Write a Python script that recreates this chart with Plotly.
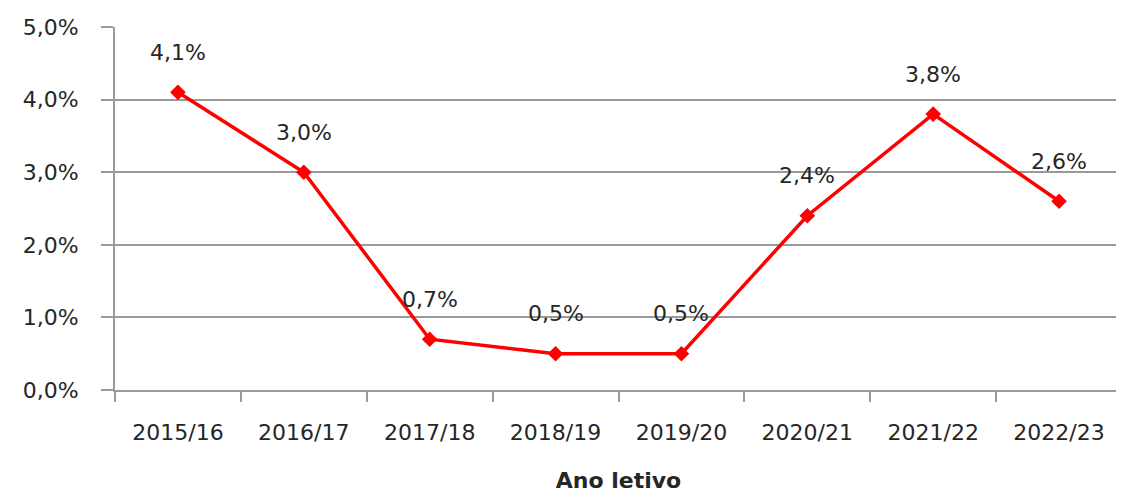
import plotly.graph_objects as go

categories = ["2015/16", "2016/17", "2017/18", "2018/19", "2019/20", "2020/21", "2021/22", "2022/23"]
values = [4.1, 3.0, 0.7, 0.5, 0.5, 2.4, 3.8, 2.6]
y_ticks = [0, 1, 2, 3, 4, 5]
y_ticktext = [f"{t:.1f}%".replace(".", ",") for t in y_ticks]

FONT = "DejaVu Sans"
GRID = "#9a9a9a"
TXT = "#262626"

fig = go.Figure()
fig.add_trace(go.Scatter(
    x=categories, y=values, mode="lines+markers",
    line=dict(color="#ff0000", width=3.5),
    marker=dict(symbol="diamond", size=12, color="#ff0000"),
    hoverinfo="skip", showlegend=False,
))

for c, v in zip(categories, values):
    fig.add_annotation(x=c, y=v, text=f"{v:.1f}%".replace(".", ","),
                       showarrow=False, yshift=40,
                       font=dict(family=FONT, size=22, color=TXT))

# page body has an 8px default margin, so the figure is slightly smaller and offset
fig.update_layout(
    width=1116, height=485,
    margin=dict(l=107, r=2, t=19, b=103),
    paper_bgcolor="white", plot_bgcolor="white",
    font=dict(family=FONT, size=22, color=TXT),
)
fig.update_xaxes(
    type="category", range=[-0.5, 7.5],
    tickson="boundaries", ticks="outside", ticklen=10, tickwidth=2, tickcolor=GRID,
    showgrid=False, showline=True, linecolor=GRID, linewidth=2,
    ticklabelstandoff=22,
    tickfont=dict(family=FONT, size=22, color=TXT),
    title=dict(text="<b>Ano letivo</b>", font=dict(family=FONT, size=22, color=TXT), standoff=28),
)
fig.update_yaxes(
    range=[0, 5], tickvals=y_ticks, ticktext=y_ticktext,
    ticks="outside", ticklen=12, tickwidth=2, tickcolor=GRID,
    showgrid=True, gridcolor=GRID, gridwidth=2,
    showline=True, linecolor=GRID, linewidth=2,
    zeroline=False, ticklabelstandoff=18,
    tickfont=dict(family=FONT, size=22, color=TXT),
)

fig.write_html("out.html")
